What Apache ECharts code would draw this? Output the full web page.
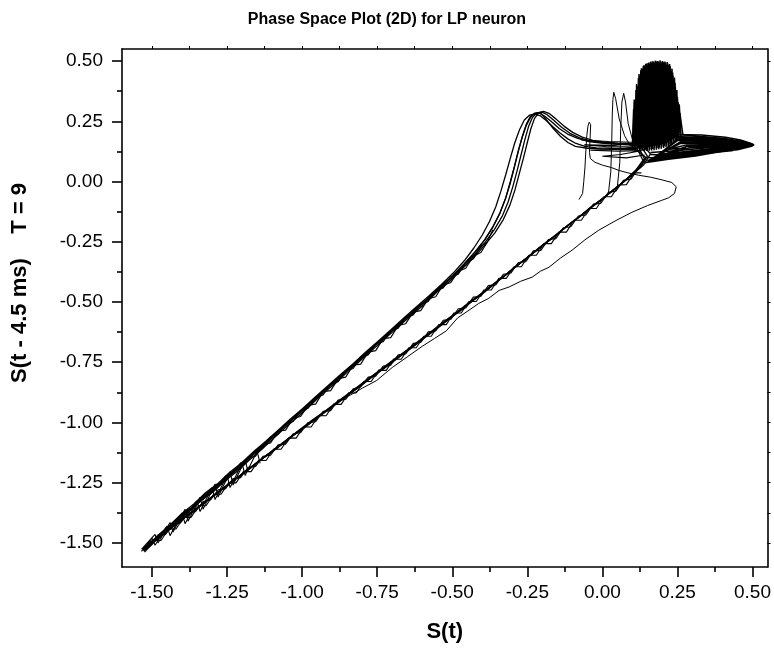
<!DOCTYPE html>
<html>
<head>
<meta charset="utf-8">
<script src="https://cdn.jsdelivr.net/npm/echarts@6/dist/echarts.min.js"></script>
<style>
html,body{margin:0;padding:0;background:#fff;}
#chart{width:774px;height:651px;}
</style>
</head>
<body>
<div id="chart"></div>
<script>
// ---------- tick values ----------
const xMajorTicks = [-1.5, -1.25, -1.0, -0.75, -0.5, -0.25, 0, 0.25, 0.5];
const xMinorTicks = [-1.375, -1.125, -0.875, -0.625, -0.375, -0.125, 0.125, 0.375];
const yMajorTicks = [-1.5, -1.25, -1.0, -0.75, -0.5, -0.25, 0, 0.25, 0.5];
const yMinorTicks = [-1.375, -1.125, -0.875, -0.625, -0.375, -0.125, 0.125, 0.375];

// ---------- trajectory traces (S(t), S(t-4.5ms)) ----------
const loop1 = [[-1.530,-1.530],[-1.490,-1.482],[-1.452,-1.447],[-1.410,-1.398],[-1.372,-1.361],[-1.330,-1.312],[-1.291,-1.277],[-1.250,-1.229],[-1.212,-1.191],[-1.172,-1.143],[-1.131,-1.101],[-1.090,-1.052],[-1.050,-1.008],[-1.008,-0.962],[-0.968,-0.918],[-0.925,-0.866],[-0.884,-0.826],[-0.842,-0.775],[-0.800,-0.731],[-0.758,-0.682],[-0.716,-0.638],[-0.672,-0.587],[-0.630,-0.543],[-0.588,-0.496],[-0.545,-0.447],[-0.503,-0.401],[-0.462,-0.350],[-0.424,-0.301],[-0.390,-0.252],[-0.360,-0.200],[-0.334,-0.145],[-0.314,-0.085],[-0.298,-0.020],[-0.284,0.045],[-0.271,0.110],[-0.258,0.175],[-0.246,0.228],[-0.233,0.266],[-0.218,0.285],[-0.202,0.288],[-0.185,0.278],[-0.162,0.254],[-0.136,0.225],[-0.108,0.200],[-0.076,0.181],[-0.040,0.168],[0.000,0.161],[0.045,0.157],[0.090,0.155],[0.125,0.152],
[0.150,0.105],[0.128,0.062],[0.100,0.030],[0.068,-0.004],[0.035,-0.036],[0.002,-0.070],[-0.032,-0.101],[-0.068,-0.138],[-0.105,-0.172],[-0.142,-0.210],[-0.180,-0.247],[-0.218,-0.283],[-0.256,-0.322],[-0.294,-0.358],[-0.332,-0.398],[-0.372,-0.436],[-0.412,-0.475],[-0.452,-0.512],[-0.494,-0.553],[-0.536,-0.592],[-0.578,-0.632],[-0.620,-0.672],[-0.662,-0.712],[-0.706,-0.752],[-0.750,-0.793],[-0.794,-0.834],[-0.838,-0.875],[-0.884,-0.918],[-0.930,-0.960],[-0.976,-1.002],[-1.022,-1.045],[-1.068,-1.090],[-1.114,-1.133],[-1.160,-1.176],[-1.206,-1.220],[-1.252,-1.263],[-1.298,-1.307],[-1.344,-1.350],[-1.390,-1.393],[-1.436,-1.437],[-1.482,-1.482],[-1.530,-1.530]];

const loop2 = [[-1.525,-1.538],[-1.486,-1.478],[-1.446,-1.437],[-1.405,-1.385],[-1.366,-1.352],[-1.326,-1.300],[-1.285,-1.264],[-1.246,-1.218],[-1.206,-1.176],[-1.166,-1.133],[-1.125,-1.086],[-1.085,-1.044],[-1.044,-0.995],[-1.003,-0.953],[-0.962,-0.905],[-0.920,-0.858],[-0.878,-0.812],[-0.836,-0.766],[-0.795,-0.719],[-0.752,-0.674],[-0.710,-0.625],[-0.668,-0.580],[-0.625,-0.531],[-0.583,-0.487],[-0.541,-0.437],[-0.500,-0.392],[-0.460,-0.341],[-0.423,-0.290],[-0.391,-0.240],[-0.364,-0.186],[-0.341,-0.130],[-0.322,-0.068],[-0.307,-0.002],[-0.293,0.062],[-0.280,0.128],[-0.266,0.190],[-0.254,0.236],[-0.241,0.268],[-0.226,0.283],[-0.210,0.284],[-0.193,0.272],[-0.170,0.249],[-0.144,0.220],[-0.116,0.197],[-0.082,0.179],[-0.045,0.166],[-0.004,0.159],[0.040,0.155],[0.085,0.152],[0.118,0.148],
[0.140,0.095],[0.118,0.055],[0.091,0.022],[0.060,-0.012],[0.026,-0.046],[-0.008,-0.080],[-0.043,-0.113],[-0.079,-0.149],[-0.116,-0.183],[-0.153,-0.222],[-0.191,-0.257],[-0.229,-0.296],[-0.267,-0.332],[-0.305,-0.371],[-0.344,-0.409],[-0.383,-0.449],[-0.423,-0.486],[-0.464,-0.527],[-0.505,-0.565],[-0.547,-0.606],[-0.589,-0.645],[-0.631,-0.686],[-0.673,-0.724],[-0.717,-0.766],[-0.761,-0.805],[-0.805,-0.848],[-0.849,-0.887],[-0.895,-0.931],[-0.941,-0.972],[-0.987,-1.016],[-1.033,-1.056],[-1.079,-1.102],[-1.125,-1.143],[-1.171,-1.188],[-1.217,-1.230],[-1.263,-1.275],[-1.309,-1.317],[-1.355,-1.362],[-1.401,-1.404],[-1.447,-1.449],[-1.490,-1.492],[-1.525,-1.538]];

const loop3 = [[-1.535,-1.525],[-1.494,-1.490],[-1.456,-1.455],[-1.416,-1.410],[-1.376,-1.371],[-1.336,-1.324],[-1.296,-1.288],[-1.256,-1.241],[-1.216,-1.203],[-1.176,-1.156],[-1.136,-1.113],[-1.095,-1.066],[-1.055,-1.020],[-1.013,-0.975],[-0.972,-0.929],[-0.930,-0.879],[-0.889,-0.837],[-0.847,-0.788],[-0.805,-0.742],[-0.763,-0.695],[-0.721,-0.649],[-0.677,-0.600],[-0.635,-0.554],[-0.593,-0.509],[-0.550,-0.458],[-0.508,-0.414],[-0.466,-0.361],[-0.427,-0.314],[-0.392,-0.264],[-0.358,-0.213],[-0.330,-0.158],[-0.308,-0.098],[-0.291,-0.034],[-0.277,0.032],[-0.263,0.097],[-0.250,0.162],[-0.238,0.220],[-0.226,0.262],[-0.212,0.285],[-0.196,0.291],[-0.178,0.283],[-0.155,0.260],[-0.128,0.230],[-0.099,0.204],[-0.067,0.184],[-0.032,0.171],[0.008,0.163],[0.052,0.159],[0.096,0.157],[0.130,0.156],
[0.160,0.115],[0.138,0.070],[0.109,0.038],[0.077,0.004],[0.044,-0.028],[0.011,-0.061],[-0.022,-0.092],[-0.058,-0.128],[-0.095,-0.163],[-0.132,-0.199],[-0.170,-0.237],[-0.208,-0.272],[-0.246,-0.312],[-0.284,-0.347],[-0.322,-0.387],[-0.362,-0.424],[-0.402,-0.464],[-0.442,-0.500],[-0.484,-0.542],[-0.526,-0.580],[-0.568,-0.621],[-0.610,-0.660],[-0.652,-0.701],[-0.696,-0.740],[-0.740,-0.782],[-0.784,-0.822],[-0.828,-0.864],[-0.874,-0.906],[-0.920,-0.949],[-0.966,-0.990],[-1.012,-1.034],[-1.058,-1.078],[-1.104,-1.122],[-1.150,-1.165],[-1.196,-1.210],[-1.242,-1.252],[-1.288,-1.298],[-1.334,-1.340],[-1.380,-1.384],[-1.426,-1.427],[-1.476,-1.474],[-1.535,-1.525]];

const loop4 = [[-1.520,-1.522],[-1.482,-1.470],[-1.442,-1.428],[-1.402,-1.380],[-1.362,-1.340],[-1.322,-1.292],[-1.282,-1.255],[-1.242,-1.208],[-1.202,-1.168],[-1.162,-1.122],[-1.121,-1.078],[-1.081,-1.033],[-1.040,-0.987],[-0.999,-0.943],[-0.958,-0.896],[-0.916,-0.850],[-0.874,-0.803],[-0.832,-0.758],[-0.790,-0.710],[-0.748,-0.664],[-0.706,-0.617],[-0.664,-0.570],[-0.621,-0.522],[-0.579,-0.476],[-0.537,-0.428],[-0.497,-0.380],[-0.460,-0.329],[-0.428,-0.276],[-0.400,-0.222],[-0.376,-0.166],[-0.355,-0.105],[-0.338,-0.040],[-0.322,0.028],[-0.307,0.095],[-0.292,0.160],[-0.276,0.215],[-0.260,0.255],[-0.243,0.275],[-0.225,0.280],[-0.206,0.272],[-0.186,0.252],[-0.164,0.226],[-0.140,0.200],[-0.114,0.176],[-0.088,0.158],[-0.058,0.146],[-0.020,0.140],[0.030,0.138],[0.080,0.137],[0.115,0.138],
[0.135,0.088],[0.112,0.048],[0.084,0.014],[0.052,-0.020],[0.018,-0.054],[-0.016,-0.088],[-0.051,-0.121],[-0.087,-0.157],[-0.124,-0.191],[-0.161,-0.230],[-0.199,-0.265],[-0.237,-0.304],[-0.275,-0.340],[-0.313,-0.379],[-0.352,-0.417],[-0.391,-0.457],[-0.431,-0.494],[-0.472,-0.535],[-0.513,-0.573],[-0.555,-0.614],[-0.597,-0.653],[-0.639,-0.694],[-0.681,-0.732],[-0.725,-0.774],[-0.769,-0.813],[-0.813,-0.856],[-0.857,-0.895],[-0.903,-0.939],[-0.949,-0.980],[-0.995,-1.024],[-1.041,-1.064],[-1.087,-1.110],[-1.133,-1.151],[-1.179,-1.196],[-1.225,-1.238],[-1.271,-1.283],[-1.317,-1.325],[-1.363,-1.370],[-1.409,-1.412],[-1.455,-1.457],[-1.495,-1.497],[-1.520,-1.522]];

const loop5 = [[-1.528,-1.534],[-1.487,-1.487],[-1.449,-1.441],[-1.408,-1.392],[-1.369,-1.357],[-1.328,-1.306],[-1.289,-1.271],[-1.248,-1.222],[-1.209,-1.186],[-1.169,-1.137],[-1.128,-1.095],[-1.088,-1.047],[-1.047,-1.002],[-1.006,-0.957],[-0.965,-0.911],[-0.923,-0.862],[-0.881,-0.819],[-0.839,-0.770],[-0.797,-0.725],[-0.755,-0.677],[-0.713,-0.632],[-0.670,-0.583],[-0.627,-0.537],[-0.585,-0.491],[-0.543,-0.441],[-0.501,-0.396],[-0.461,-0.344],[-0.425,-0.294],[-0.393,-0.244],[-0.365,-0.190],[-0.342,-0.134],[-0.323,-0.072],[-0.307,-0.008],[-0.294,0.056],[-0.281,0.121],[-0.267,0.184],[-0.253,0.234],[-0.239,0.267],[-0.224,0.284],[-0.208,0.287],[-0.190,0.262],[-0.165,0.222],[-0.140,0.188],[-0.115,0.162],[-0.090,0.146],[-0.050,0.138],[0.000,0.135],[0.060,0.134],[0.110,0.135],
[0.145,0.100],[0.123,0.058],[0.095,0.026],[0.064,-0.008],[0.030,-0.041],[-0.003,-0.075],[-0.038,-0.106],[-0.074,-0.143],[-0.111,-0.178],[-0.148,-0.216],[-0.186,-0.251],[-0.224,-0.290],[-0.262,-0.327],[-0.300,-0.364],[-0.338,-0.404],[-0.378,-0.441],[-0.418,-0.481],[-0.458,-0.518],[-0.500,-0.560],[-0.542,-0.598],[-0.584,-0.639],[-0.626,-0.678],[-0.668,-0.718],[-0.712,-0.758],[-0.756,-0.799],[-0.800,-0.840],[-0.844,-0.881],[-0.890,-0.924],[-0.936,-0.966],[-0.982,-1.009],[-1.028,-1.051],[-1.074,-1.096],[-1.120,-1.138],[-1.166,-1.182],[-1.212,-1.225],[-1.258,-1.269],[-1.304,-1.312],[-1.350,-1.356],[-1.396,-1.398],[-1.442,-1.443],[-1.486,-1.487],[-1.528,-1.534]];

// jittery strands along the two branches
const upperStrand1 = [[-1.525,-1.515],[-1.500,-1.505],[-1.480,-1.468],[-1.455,-1.458],[-1.430,-1.415],[-1.405,-1.405],[-1.380,-1.360],[-1.355,-1.352],[-1.330,-1.305],[-1.305,-1.298],[-1.280,-1.255],[-1.255,-1.245],[-1.230,-1.202],[-1.205,-1.192],[-1.180,-1.148],[-1.155,-1.140],[-1.130,-1.092],[-1.105,-1.085],[-1.080,-1.035],[-1.055,-1.032],[-1.030,-0.982],[-1.005,-0.975],[-0.980,-0.928],[-0.955,-0.924],[-0.930,-0.872],[-0.905,-0.868],[-0.880,-0.818],[-0.855,-0.812],[-0.830,-0.762],[-0.805,-0.758],[-0.780,-0.708],[-0.755,-0.702],[-0.730,-0.652],[-0.705,-0.648],[-0.680,-0.598],[-0.655,-0.590],[-0.630,-0.542],[-0.605,-0.536],[-0.580,-0.487],[-0.555,-0.478],[-0.530,-0.428],[-0.505,-0.420],[-0.480,-0.372],[-0.455,-0.360],[-0.430,-0.310],[-0.405,-0.295],[-0.385,-0.255]];
const upperStrand2 = [[-1.530,-1.528],[-1.505,-1.493],[-1.480,-1.483],[-1.455,-1.438],[-1.430,-1.429],[-1.405,-1.384],[-1.380,-1.375],[-1.355,-1.330],[-1.330,-1.321],[-1.305,-1.276],[-1.280,-1.267],[-1.255,-1.222],[-1.230,-1.213],[-1.205,-1.168],[-1.180,-1.159],[-1.155,-1.114],[-1.130,-1.105],[-1.105,-1.059],[-1.080,-1.050],[-1.055,-1.005],[-1.030,-0.996],[-1.005,-0.951],[-0.980,-0.941],[-0.955,-0.896],[-0.930,-0.886],[-0.905,-0.841],[-0.880,-0.831],[-0.855,-0.786],[-0.830,-0.776],[-0.805,-0.730],[-0.780,-0.720],[-0.755,-0.674],[-0.730,-0.665],[-0.705,-0.619],[-0.680,-0.609],[-0.655,-0.564],[-0.630,-0.554],[-0.605,-0.508],[-0.580,-0.498],[-0.555,-0.452],[-0.530,-0.442],[-0.505,-0.396],[-0.480,-0.385],[-0.455,-0.336],[-0.430,-0.321],[-0.405,-0.268],[-0.385,-0.256],[-0.365,-0.200]];
const lowerStrand1 = [[0.120,0.054],[0.095,0.010],[0.070,0.005],[0.045,-0.040],[0.020,-0.045],[-0.005,-0.090],[-0.030,-0.094],[-0.055,-0.139],[-0.080,-0.143],[-0.105,-0.188],[-0.130,-0.192],[-0.155,-0.237],[-0.180,-0.241],[-0.205,-0.286],[-0.230,-0.288],[-0.255,-0.333],[-0.280,-0.336],[-0.305,-0.380],[-0.330,-0.385],[-0.355,-0.429],[-0.380,-0.432],[-0.405,-0.477],[-0.430,-0.480],[-0.455,-0.525],[-0.480,-0.528],[-0.505,-0.572],[-0.530,-0.576],[-0.555,-0.620],[-0.580,-0.624],[-0.605,-0.668],[-0.630,-0.672],[-0.655,-0.716],[-0.680,-0.719],[-0.705,-0.762],[-0.730,-0.766],[-0.755,-0.808],[-0.780,-0.812],[-0.805,-0.853],[-0.830,-0.860],[-0.855,-0.904],[-0.880,-0.907],[-0.905,-0.951],[-0.930,-0.954],[-0.955,-0.997],[-0.980,-1.000],[-1.005,-1.043],[-1.030,-1.047],[-1.055,-1.090],[-1.080,-1.093],[-1.105,-1.136],[-1.130,-1.140],[-1.155,-1.183],[-1.180,-1.186],[-1.205,-1.229],[-1.230,-1.233],[-1.255,-1.275],[-1.280,-1.280],[-1.305,-1.322],[-1.330,-1.328],[-1.355,-1.370],[-1.380,-1.376],[-1.405,-1.417],[-1.430,-1.424],[-1.455,-1.465],[-1.480,-1.472],[-1.505,-1.512],[-1.530,-1.525]];
const lowerStrand2 = [[0.130,0.036],[0.105,0.036],[0.080,-0.013],[0.055,-0.014],[0.030,-0.063],[0.005,-0.063],[-0.020,-0.112],[-0.045,-0.112],[-0.070,-0.161],[-0.095,-0.161],[-0.120,-0.210],[-0.145,-0.210],[-0.170,-0.258],[-0.195,-0.258],[-0.220,-0.306],[-0.245,-0.306],[-0.270,-0.354],[-0.295,-0.354],[-0.320,-0.402],[-0.345,-0.402],[-0.370,-0.450],[-0.395,-0.450],[-0.420,-0.498],[-0.445,-0.498],[-0.470,-0.546],[-0.495,-0.546],[-0.520,-0.594],[-0.545,-0.594],[-0.570,-0.642],[-0.595,-0.642],[-0.620,-0.690],[-0.645,-0.690],[-0.670,-0.738],[-0.695,-0.737],[-0.720,-0.784],[-0.745,-0.783],[-0.770,-0.830],[-0.795,-0.830],[-0.820,-0.878],[-0.845,-0.877],[-0.870,-0.925],[-0.895,-0.924],[-0.920,-0.972],[-0.945,-0.971],[-0.970,-1.019],[-0.995,-1.018],[-1.020,-1.065],[-1.045,-1.064],[-1.070,-1.111],[-1.095,-1.110],[-1.120,-1.158],[-1.145,-1.157],[-1.170,-1.204],[-1.195,-1.203],[-1.220,-1.251],[-1.245,-1.250],[-1.270,-1.298],[-1.295,-1.298],[-1.320,-1.346],[-1.345,-1.346],[-1.370,-1.394],[-1.395,-1.394],[-1.420,-1.442],[-1.445,-1.442],[-1.470,-1.490],[-1.495,-1.490],[-1.520,-1.525]];
const tipCluster = [[-1.535,-1.535],[-1.500,-1.480],[-1.490,-1.510],[-1.450,-1.430],[-1.440,-1.470],[-1.400,-1.375],[-1.390,-1.420],[-1.350,-1.325],[-1.340,-1.370],[-1.300,-1.270],[-1.290,-1.320],[-1.250,-1.220],[-1.240,-1.270],[-1.200,-1.170],[-1.190,-1.220],[-1.150,-1.120],[-1.140,-1.170]];
const tipCluster2 = [[-1.530,-1.520],[-1.490,-1.465],[-1.480,-1.500],[-1.440,-1.415],[-1.430,-1.455],[-1.390,-1.360],[-1.380,-1.410],[-1.340,-1.310],[-1.330,-1.360],[-1.290,-1.255],[-1.280,-1.310],[-1.240,-1.205],[-1.230,-1.260],[-1.190,-1.155],[-1.180,-1.205]];
const flatBundle = [[-0.070,0.172],[0.020,0.166],[0.120,0.162],[0.040,0.150],[-0.060,0.152],[0.010,0.145],[0.120,0.143],[0.030,0.132],[-0.040,0.130],[0.050,0.126],[0.130,0.128],[0.060,0.112],[0.000,0.105],[0.080,0.098],[0.140,0.110]];

// ---------- burst region (dense oscillations) ----------
const burstA = [[0.100,0.150],[0.104,0.300],[0.108,0.140],[0.112,0.380],[0.116,0.135],[0.120,0.430],[0.124,0.130],[0.128,0.462],[0.132,0.128],[0.136,0.478],[0.140,0.127],[0.144,0.488],[0.148,0.127],[0.152,0.492],[0.156,0.128],[0.160,0.496],[0.164,0.129],[0.168,0.499],[0.172,0.130],[0.176,0.501],[0.180,0.132],[0.184,0.500],[0.188,0.134],[0.192,0.503],[0.196,0.136],[0.200,0.500],[0.204,0.139],[0.208,0.498],[0.212,0.142],[0.216,0.496],[0.220,0.146],[0.224,0.488],[0.228,0.150],[0.232,0.468],[0.236,0.156],[0.240,0.432],[0.244,0.164],[0.248,0.380],[0.252,0.172],[0.256,0.320],[0.262,0.185],[0.300,0.182],[0.380,0.172],[0.450,0.162],[0.502,0.152],[0.460,0.140],[0.390,0.128],[0.320,0.115],[0.250,0.104],[0.190,0.096],[0.150,0.100]];
const burstB = [[0.102,0.160],[0.106,0.340],[0.110,0.145],[0.114,0.405],[0.118,0.138],[0.122,0.446],[0.126,0.132],[0.130,0.470],[0.134,0.130],[0.138,0.483],[0.142,0.130],[0.146,0.490],[0.150,0.131],[0.154,0.494],[0.158,0.133],[0.162,0.498],[0.166,0.135],[0.170,0.497],[0.174,0.137],[0.178,0.501],[0.182,0.139],[0.186,0.499],[0.190,0.141],[0.194,0.498],[0.198,0.144],[0.202,0.497],[0.206,0.147],[0.210,0.494],[0.214,0.150],[0.218,0.490],[0.222,0.154],[0.226,0.478],[0.230,0.160],[0.234,0.452],[0.238,0.166],[0.242,0.410],[0.246,0.172],[0.250,0.350],[0.254,0.180],[0.258,0.285],[0.268,0.195],[0.330,0.185],[0.420,0.170],[0.490,0.158],[0.505,0.150],[0.470,0.146],[0.400,0.138],[0.330,0.128],[0.260,0.118],[0.200,0.110],[0.160,0.112]];
const burstC = [[0.104,0.170],[0.109,0.320],[0.113,0.150],[0.117,0.395],[0.121,0.145],[0.125,0.440],[0.129,0.140],[0.133,0.468],[0.137,0.138],[0.141,0.480],[0.145,0.140],[0.149,0.486],[0.153,0.142],[0.157,0.490],[0.161,0.144],[0.165,0.494],[0.169,0.146],[0.173,0.492],[0.177,0.148],[0.181,0.496],[0.185,0.150],[0.189,0.493],[0.193,0.152],[0.197,0.492],[0.201,0.155],[0.205,0.488],[0.209,0.158],[0.213,0.484],[0.217,0.162],[0.221,0.476],[0.225,0.168],[0.229,0.460],[0.233,0.175],[0.237,0.425],[0.241,0.180],[0.245,0.370],[0.250,0.185],[0.320,0.175],[0.410,0.165],[0.480,0.155],[0.430,0.148],[0.350,0.140],[0.280,0.132],[0.210,0.125],[0.160,0.120]];
const burstD = [[0.118,0.200],[0.123,0.420],[0.127,0.180],[0.131,0.455],[0.135,0.170],[0.139,0.475],[0.143,0.165],[0.147,0.482],[0.151,0.160],[0.155,0.488],[0.159,0.160],[0.163,0.492],[0.167,0.162],[0.171,0.495],[0.175,0.164],[0.179,0.497],[0.183,0.166],[0.187,0.496],[0.191,0.168],[0.195,0.495],[0.199,0.170],[0.203,0.493],[0.207,0.172],[0.211,0.490],[0.215,0.175],[0.219,0.484],[0.223,0.178],[0.227,0.470],[0.231,0.182],[0.235,0.440],[0.239,0.186],[0.243,0.395],[0.247,0.190],[0.252,0.330],[0.258,0.200]];

const tongueA = [[0.200,0.185],[0.300,0.190],[0.400,0.180],[0.470,0.166],[0.505,0.153],[0.450,0.146],[0.360,0.136],[0.270,0.124],[0.190,0.112],[0.260,0.182],[0.350,0.183],[0.430,0.172],[0.490,0.158],[0.440,0.142],[0.350,0.130],[0.260,0.117],[0.180,0.104],[0.250,0.176],[0.340,0.177],[0.420,0.168],[0.485,0.156],[0.430,0.138],[0.340,0.124],[0.250,0.110],[0.170,0.098],[0.250,0.170],[0.350,0.172],[0.440,0.163],[0.495,0.152],[0.420,0.134],[0.330,0.118],[0.240,0.104],[0.160,0.092],[0.260,0.164],[0.360,0.166],[0.450,0.159],[0.500,0.150],[0.410,0.130],[0.320,0.112],[0.230,0.098],[0.150,0.086],[0.260,0.158],[0.360,0.160],[0.450,0.155],[0.490,0.149],[0.400,0.126],[0.310,0.106],[0.220,0.092],[0.140,0.078]];
const tongueB = [[0.240,0.195],[0.330,0.193],[0.410,0.184],[0.460,0.172],[0.500,0.156],[0.460,0.150],[0.380,0.146],[0.300,0.140],[0.220,0.134],[0.280,0.152],[0.380,0.154],[0.470,0.152],[0.500,0.148],[0.440,0.140],[0.360,0.130],[0.280,0.120],[0.200,0.110],[0.280,0.146],[0.380,0.148],[0.460,0.146],[0.490,0.146],[0.430,0.128],[0.350,0.118],[0.270,0.108],[0.180,0.100],[0.290,0.140],[0.390,0.142],[0.470,0.141],[0.500,0.147],[0.450,0.132],[0.370,0.122],[0.290,0.114],[0.210,0.106]];

// ---------- isolated excursions ----------
const excursion1 = [[-0.078,-0.075],[-0.066,-0.050],[-0.062,0.000],[-0.058,0.060],[-0.055,0.130],[-0.052,0.190],[-0.048,0.230],[-0.044,0.246],[-0.039,0.236],[-0.041,0.180],[-0.043,0.120],[-0.040,0.095],[-0.025,0.080],[0.000,0.068],[0.030,0.058],[0.055,0.046],[0.085,0.036],[0.121,0.026],[0.160,0.018],[0.195,0.008],[0.231,-0.004],[0.246,-0.022],[0.240,-0.050],[0.220,-0.068],[0.198,-0.078],[0.150,-0.100],[0.098,-0.128],[0.045,-0.162],[-0.012,-0.202],[-0.058,-0.242],[-0.101,-0.285],[-0.140,-0.318],[-0.178,-0.356],[-0.206,-0.372],[-0.234,-0.397],[-0.272,-0.414],[-0.311,-0.438],[-0.344,-0.452],[-0.380,-0.486],[-0.412,-0.506],[-0.444,-0.534],[-0.482,-0.566],[-0.520,-0.620],[-0.560,-0.652],[-0.600,-0.684],[-0.650,-0.728],[-0.700,-0.772],[-0.752,-0.826],[-0.800,-0.858],[-0.850,-0.894],[-0.900,-0.934]];
const excursion2 = [[0.020,-0.050],[0.028,0.040],[0.031,0.160],[0.033,0.280],[0.035,0.340],[0.038,0.370],[0.044,0.345],[0.056,0.260],[0.074,0.190],[0.092,0.150],[0.110,0.140]];
const excursion3 = [[0.050,-0.020],[0.058,0.080],[0.061,0.220],[0.065,0.330],[0.071,0.366],[0.077,0.330],[0.086,0.240],[0.100,0.175],[0.120,0.145]];

const loops = [loop1, loop2, loop3, loop4, loop5];
const strands = [upperStrand1, upperStrand2, lowerStrand1, lowerStrand2, tipCluster, tipCluster2, flatBundle];
const burst = [burstA, burstB, burstC, burstD, tongueA, tongueB];
const excursions = [excursion1, excursion2, excursion3];

const FONT = "'Liberation Sans', Arial, sans-serif";
const X_MIN = -1.6, X_MAX = 0.55, Y_MIN = -1.6, Y_MAX = 0.55;
const allX = xMajorTicks.concat(xMinorTicks).sort((a, b) => a - b);
const allY = yMajorTicks.concat(yMinorTicks).sort((a, b) => a - b);
const fmt = v => Number(v).toFixed(2);
const axisLineStyle = { color: '#000', width: 1.6 };

function traceSeries(list, width) {
  return list.map(d => ({
    type: 'line', data: d, xAxisIndex: 0, yAxisIndex: 0,
    showSymbol: false, symbol: 'none', smooth: false, silent: true,
    lineStyle: { color: '#000', width: width }
  }));
}

const chart = echarts.init(document.getElementById('chart'), null, { renderer: 'canvas' });
chart.setOption({
  animation: false,
  backgroundColor: '#fff',
  title: {
    text: 'Phase Space Plot (2D) for LP neuron',
    left: 'center', top: 7,
    textStyle: { fontFamily: FONT, fontSize: 16, fontWeight: 'bold', color: '#000' }
  },
  grid: { left: 122, top: 49, right: 6, bottom: 84, containLabel: false },
  xAxis: [
    {
      type: 'value', position: 'bottom', min: X_MIN, max: X_MAX,
      axisLine: { show: true, onZero: false, lineStyle: axisLineStyle },
      axisTick: { show: true, inside: false, length: 10, customValues: xMajorTicks, lineStyle: axisLineStyle },
      axisLabel: { show: true, customValues: xMajorTicks, formatter: fmt, margin: 16, fontSize: 19, color: '#000', fontFamily: FONT },
      splitLine: { show: false },
      name: 'S(t)', nameLocation: 'middle', nameGap: 54,
      nameTextStyle: { fontFamily: FONT, fontSize: 22, fontWeight: 'bold', color: '#000' }
    },
    {
      type: 'value', position: 'bottom', min: X_MIN, max: X_MAX,
      axisLine: { show: false, onZero: false },
      axisTick: { show: true, inside: false, length: 5, customValues: xMinorTicks, lineStyle: axisLineStyle },
      axisLabel: { show: false }, splitLine: { show: false }
    },
    {
      type: 'value', position: 'top', min: X_MIN, max: X_MAX,
      axisLine: { show: true, onZero: false, lineStyle: axisLineStyle },
      axisTick: { show: true, inside: false, length: 3, customValues: allX, lineStyle: { color: '#000', width: 1 } },
      axisLabel: { show: false }, splitLine: { show: false }
    }
  ],
  yAxis: [
    {
      type: 'value', position: 'left', min: Y_MIN, max: Y_MAX,
      axisLine: { show: true, onZero: false, lineStyle: axisLineStyle },
      axisTick: { show: true, inside: false, length: 10, customValues: yMajorTicks, lineStyle: axisLineStyle },
      axisLabel: { show: true, customValues: yMajorTicks, formatter: fmt, margin: 19, fontSize: 19, color: '#000', fontFamily: FONT },
      splitLine: { show: false },
      name: 'S(t - 4.5 ms)    T = 9', nameLocation: 'middle', nameGap: 91,
      nameTextStyle: { fontFamily: FONT, fontSize: 22, fontWeight: 'bold', color: '#000', padding: [0, 0, 0, 50] }
    },
    {
      type: 'value', position: 'left', min: Y_MIN, max: Y_MAX,
      axisLine: { show: false, onZero: false },
      axisTick: { show: true, inside: false, length: 5, customValues: yMinorTicks, lineStyle: axisLineStyle },
      axisLabel: { show: false }, splitLine: { show: false }
    },
    {
      type: 'value', position: 'right', min: Y_MIN, max: Y_MAX,
      axisLine: { show: true, onZero: false, lineStyle: axisLineStyle },
      axisTick: { show: true, inside: false, length: 3, customValues: allY, lineStyle: { color: '#000', width: 1 } },
      axisLabel: { show: false }, splitLine: { show: false }
    }
  ],
  series: [].concat(
    traceSeries(loops, 1.3),
    traceSeries(strands, 1.1),
    traceSeries(burst, 1.5),
    traceSeries(excursions, 1)
  )
});
</script>
</body>
</html>
